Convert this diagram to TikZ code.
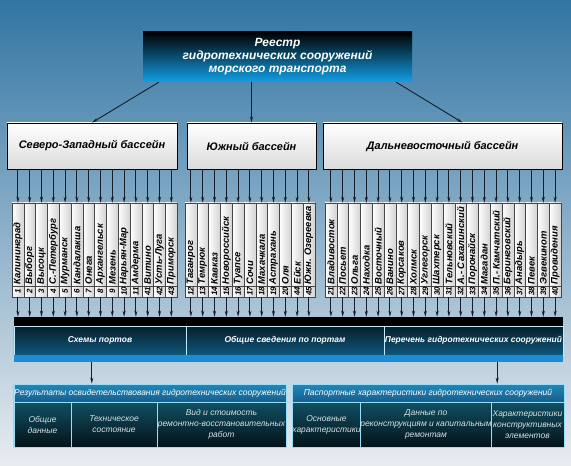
\documentclass[tikz,border=0pt]{standalone}
\usepackage{fontspec}
\setmainfont{Liberation Sans}
\usetikzlibrary{arrows.meta, positioning}

\definecolor{bgtop}{RGB}{50,117,163}
\definecolor{bgmid}{RGB}{135,172,204}
\definecolor{bgbot}{RGB}{232,236,240}
\definecolor{titlemid}{RGB}{6,55,90}
\definecolor{titleblue}{RGB}{18,158,228}
\definecolor{arrowcol}{RGB}{20,30,45}
\definecolor{barblue}{RGB}{30,140,210}
\definecolor{celltop}{RGB}{8,30,42}
\definecolor{cellbot}{RGB}{14,88,125}
\definecolor{hdrtop}{RGB}{35,135,185}
\definecolor{hdrbot}{RGB}{20,95,140}
\definecolor{restop}{RGB}{16,80,100}
\definecolor{resbot}{RGB}{4,18,24}
\definecolor{restext}{RGB}{215,225,230}

\begin{document}
\begin{tikzpicture}[x=1bp, y=-1bp, align=center,
  arr/.style={draw=arrowcol, line width=0.9bp, -{Stealth[length=6bp, width=3bp]}},
  title/.style={top color=black, middle color=titlemid, bottom color=titleblue, text=white, inner sep=0pt, font=\bfseries\itshape\fontsize{12}{13}\selectfont},
  basin/.style={draw=black, line width=0.8bp, top color=white, bottom color=gray!28, inner sep=0pt, font=\bfseries\itshape\fontsize{11}{13}\selectfont},
  port/.style={draw=gray!55!black, line width=0.4bp, left color=white, right color=gray!35, minimum width=11.8bp, minimum height=94bp, inner sep=0pt},
  portline/.style={draw=gray!55!black, line width=0.4bp},
  portname/.style={rotate=90, anchor=west, inner sep=0pt, font=\bfseries\itshape\fontsize{9.5}{10}\selectfont},
  portnum/.style={rotate=90, inner sep=0pt, font=\bfseries\itshape\fontsize{8}{9}\selectfont},
  sect/.style={draw=white!75!cyan, line width=0.7bp, top color=celltop, bottom color=cellbot, text=white, inner sep=0pt, minimum height=29bp, font=\bfseries\itshape\fontsize{8.5}{10}\selectfont},
  reshead/.style={draw=white!60!cyan, line width=0.6bp, top color=hdrtop, bottom color=hdrbot, text=white, inner sep=0pt, minimum height=18bp, font=\itshape\fontsize{8.5}{10}\selectfont},
  rescell/.style={draw=white!60!cyan, line width=0.6bp, top color=restop, bottom color=resbot, text=restext, inner sep=0pt, minimum height=45bp, font=\itshape\fontsize{8.5}{11}\selectfont}
]
\useasboundingbox (0,0) rectangle (571,466);
\fill[top color=bgtop, middle color=bgmid, bottom color=bgbot] (0,0) rectangle (571,466);

\node[title, minimum width=269bp, minimum height=50bp] (reg) at (277.5,57) {Реестр\\гидротехнических сооружений\\морского транспорта};

\node[basin, minimum width=170bp, minimum height=46bp] (nw) at (92,146) {Северо-Западный бассейн};
\node[basin, minimum width=129bp, minimum height=46bp] (sth) at (251.5,146) {Южный бассейн};
\node[basin, minimum width=239bp, minimum height=46bp] (fe) at (442.5,146) {Дальневосточный бассейн};

\draw[arr] ([xshift=16bp]reg.south west) -- (nw.north);
\draw[arr] (reg.south -| sth.north) -- (sth.north);
\draw[arr] ([xshift=-16bp]reg.south east) -- ([xshift=20bp]fe.north);

\node[fill=black, minimum width=549bp, minimum height=9bp, inner sep=0pt] (topbar) at (288.5,321.5) {};
\node[sect, minimum width=172bp] (schemes) at (100,340.5) {Схемы портов};
\node[sect, minimum width=198bp] (info) at (285,340.5) {Общие сведения по портам};
\node[sect, minimum width=179bp] (list) at (473.5,340.5) {Перечень гидротехнических сооружений};
\node[fill=barblue, minimum width=549bp, minimum height=7bp, inner sep=0pt] (band) at (288.5,358.5) {};

\foreach \n/\pname [count=\i from 0] in {1/Калининград, 2/Выборг, 3/Высоцк, 4/С.-Петербург, 5/Мурманск, 6/Кандалакша, 7/Онега, 8/Архангельск, 9/Мезень, 10/Нарьян-Мар, 11/Амдерма, 41/Витино, 42/Усть-Луга, 43/Приморск} {
  \node[port] (p\n) at ({17.9+11.8*\i},250) {};
  \draw[portline] (p\n.west |- 0,286) -- (p\n.east |- 0,286);
  \node[portname] at (p\n |- 0,284.5) {\pname};
  \node[portnum] at (p\n |- 0,291.5) {\n};
  \draw[arr] (nw.south -| p\n) -- (p\n.north);
  \draw[arr] (p\n.south) -- (p\n.south |- topbar.north);
}
\foreach \n/\pname [count=\i from 0] in {12/Таганрог, 13/Темрюк, 14/Кавказ, 15/Новороссийск, 16/Туапсе, 17/Сочи, 18/Махачкала, 19/Астрахань, 20/Оля, 44/Ейск, 45/Южн. Озереевка} {
  \node[port] (p\n) at ({190.9+11.8*\i},250) {};
  \draw[portline] (p\n.west |- 0,286) -- (p\n.east |- 0,286);
  \node[portname] at (p\n |- 0,284.5) {\pname};
  \node[portnum] at (p\n |- 0,291.5) {\n};
  \draw[arr] (sth.south -| p\n) -- (p\n.north);
  \draw[arr] (p\n.south) -- (p\n.south |- topbar.north);
}
\foreach \n/\pname [count=\i from 0] in {21/Владивосток, 22/Посьет, 23/Ольга, 24/Находка, 25/Восточный, 26/Ванино, 27/Корсаков, 28/Холмск, 29/Углегорск, 30/Шахтерск, 31/Тельновский, 32/А.- Сахалинский, 33/Поронайск, 34/Магадан, 35/П.- Камчатский, 36/Беринговский, 37/Анадырь, 38/Певек, 39/Эгвекинот, 40/Провидения} {
  \node[port] (p\n) at ({330.9+11.8*\i},250) {};
  \draw[portline] (p\n.west |- 0,286) -- (p\n.east |- 0,286);
  \node[portname] at (p\n |- 0,284.5) {\pname};
  \node[portnum] at (p\n |- 0,291.5) {\n};
  \draw[arr] (fe.south -| p\n) -- (p\n.north);
  \draw[arr] (p\n.south) -- (p\n.south |- topbar.north);
}

\node[reshead, minimum width=272bp] (resl) at (150,393) {Результаты освидетельствования гидротехнических сооружений};
\node[rescell, minimum width=57bp] (gen) at (42.5,424.5) {Общие\\данные};
\node[rescell, minimum width=86bp] (tech) at (114,424.5) {Техническое\\состояние};
\node[rescell, minimum width=129bp] (repair) at (221.5,424.5) {Вид и стоимость\\ремонтно-восстановительных\\работ};

\node[reshead, minimum width=272bp] (resr) at (428,393) {Паспортные характеристики гидротехнических сооружений};
\node[rescell, minimum width=69bp] (basic) at (326.5,424.5) {Основные\\характеристики};
\node[rescell, minimum width=130bp] (recon) at (426,424.5) {Данные по\\реконструкциям и капитальным\\ремонтам};
\node[rescell, minimum width=73bp] (elem) at (527.5,424.5) {Характеристики\\конструктивных\\элементов};

\draw[arr] ([xshift=78bp]band.south west) -- ([xshift=78bp]band.south west |- resl.north);
\draw[arr] ([xshift=-66bp]band.south east) -- ([xshift=-66bp]band.south east |- resr.north);
\end{tikzpicture}
\end{document}
